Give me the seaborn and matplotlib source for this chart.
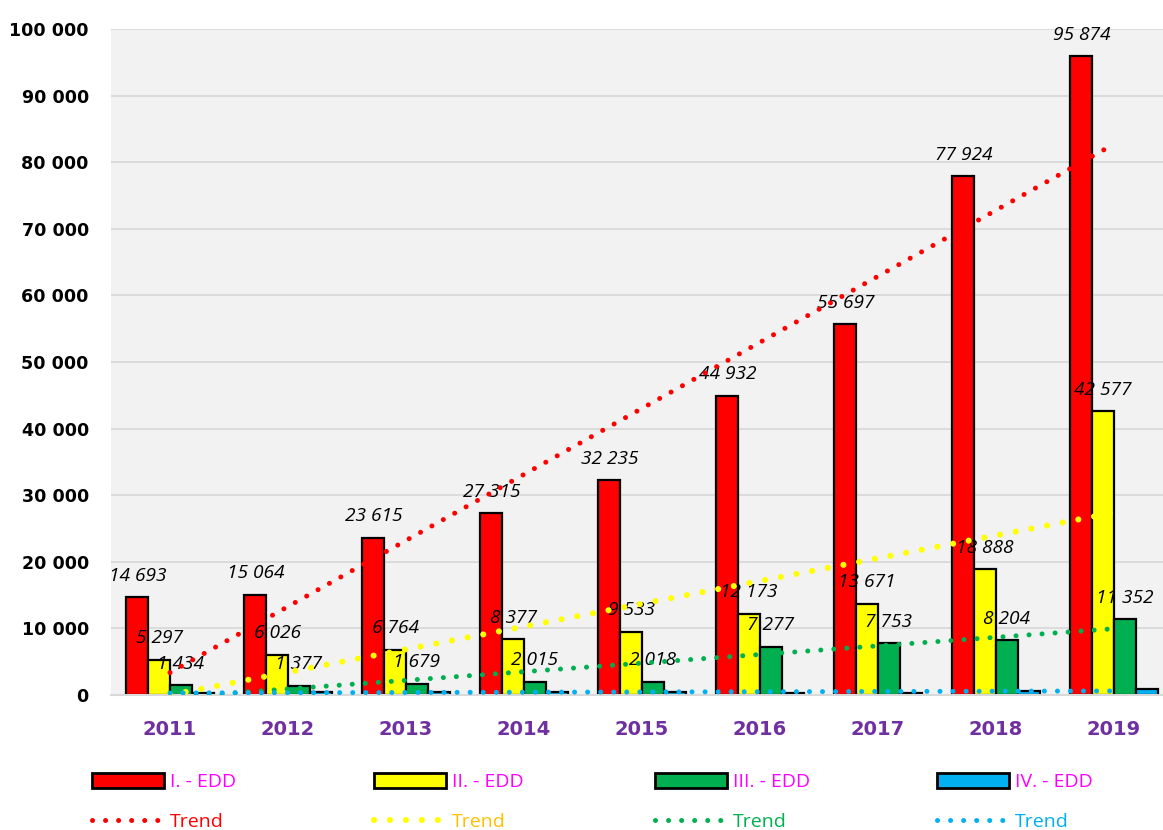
import matplotlib
matplotlib.use("Agg")
import matplotlib.pyplot as plt
import seaborn as sns
import numpy as np
import pandas as pd
from matplotlib.patches import Patch
from matplotlib.lines import Line2D
from matplotlib.ticker import FuncFormatter, FixedLocator

# ---------------- data ----------------
years = ["2011", "2012", "2013", "2014", "2015", "2016", "2017", "2018", "2019"]
edd1 = [14693, 15064, 23615, 27315, 32235, 44932, 55697, 77924, 95874]
edd2 = [5297, 6026, 6764, 8377, 9533, 12173, 13671, 18888, 42577]
edd3 = [1434, 1377, 1679, 2015, 2018, 7277, 7753, 8204, 11352]
edd4 = [250, 400, 500, 500, 500, 250, 250, 600, 850]
series_names = ["I. - EDD", "II. - EDD", "III. - EDD", "IV. - EDD"]
trend_label = "Trend"

bar_colors = ["#FF0000", "#FFFF00", "#00B050", "#00B0F0"]
trend_text_colors = ["#FF0000", "#FFC000", "#00B050", "#00B0F0"]
legend_text_color = "#FF00FF"

all_series = [edd1, edd2, edd3, edd4]
df = pd.DataFrame({
    "year": years * 4,
    "series": sum([[n] * len(years) for n in series_names], []),
    "value": edd1 + edd2 + edd3 + edd4,
})

def spaced(v):
    return f"{int(round(v)):,}".replace(",", " ")

trend_lw = [3.6, 4.4, 3.6, 3.6]
dot_style = (0, (0.01, 2.6))

# ---------------- figure ----------------
sns.set_style("white")
fig = plt.figure(figsize=(11.63, 8.30), dpi=100)
ax = fig.add_axes([111 / 1163, 135 / 830, 1062 / 1163, (695 - 29) / 830])
ax.set_facecolor("#F2F2F2")

sns.barplot(data=df, x="year", y="value", hue="series", order=years,
            hue_order=series_names, palette=bar_colors, width=0.74,
            edgecolor="black", linewidth=1.6, saturation=1, legend=False,
            ax=ax, zorder=2)

# value labels for the first three series
for cont in ax.containers[:3]:
    vals = [r.get_height() for r in cont]
    ax.bar_label(cont, labels=[spaced(v) for v in vals], padding=9,
                 fontsize=13.8, fontstyle="italic", family="Open Sans",
                 color="black", zorder=4)

# linear trend lines
xs = np.arange(len(years))
for vals, col, lw in zip(all_series, bar_colors, trend_lw):
    sns.regplot(x=xs, y=np.array(vals, dtype=float), scatter=False, ci=None,
                truncate=True, ax=ax,
                line_kws=dict(color=col, lw=lw, linestyle=dot_style,
                              dash_capstyle="round", zorder=5))

ax.set_xlim(-0.5, len(years) - 0.5)
ax.set_ylim(0, 100000)
ax.set_yticks(np.arange(0, 100001, 10000))
ax.yaxis.set_major_formatter(FuncFormatter(lambda v, p: spaced(v)))
ax.grid(axis="y", color="#D9D9D9", lw=1.3, zorder=0)
ax.set_axisbelow(True)
for s in ["left", "right", "top"]:
    ax.spines[s].set_visible(False)
ax.spines["bottom"].set_color("#D9D9D9")
ax.spines["bottom"].set_linewidth(1.5)

ax.set_xticks(xs)
ax.set_xticklabels(years)
ax.xaxis.set_minor_locator(FixedLocator(np.arange(-0.5, len(years), 1.0)))
ax.tick_params(axis="x", which="major", length=0, pad=18)
ax.tick_params(axis="x", which="minor", length=8, width=1.5, color="#D9D9D9")
ax.tick_params(axis="y", length=0, pad=16)
for t in ax.get_xticklabels():
    t.set_fontsize(14)
    t.set_fontweight("bold")
    t.set_color("#7030A0")
    t.set_family("DejaVu Sans")
for t in ax.get_yticklabels():
    t.set_fontsize(12.6)
    t.set_fontweight("bold")
    t.set_color("black")
    t.set_family("DejaVu Sans")
ax.set_xlabel("")
ax.set_ylabel("")

# ---------------- legend ----------------
col_x = [92, 374, 655, 937]
for i in range(4):
    handles = [
        Patch(facecolor=bar_colors[i], edgecolor="black", linewidth=2),
        Line2D([0], [0], color=bar_colors[i], lw=trend_lw[i],
               linestyle=dot_style, dash_capstyle="round"),
    ]
    leg = fig.legend(handles, [series_names[i], trend_label],
                     loc="upper left",
                     bbox_to_anchor=(col_x[i] / 1163, (830 - 773) / 830),
                     frameon=False, borderpad=0, borderaxespad=0,
                     handlelength=3.7, handleheight=0.8, handletextpad=0.3,
                     labelspacing=1.1,
                     prop={"family": "Open Sans", "size": 14})
    texts = leg.get_texts()
    texts[0].set_color(legend_text_color)
    texts[1].set_color(trend_text_colors[i])

fig.savefig("out.png", dpi=100)
